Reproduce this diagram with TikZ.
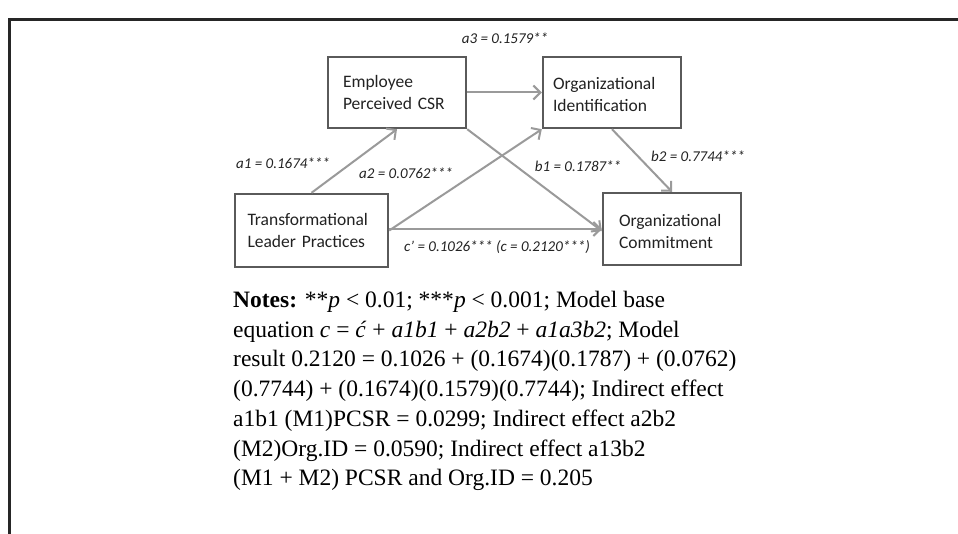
\documentclass[tikz,border=0pt]{standalone}
\usepackage{fontspec}
\setmainfont{Liberation Serif}
\newfontfamily\boxfont{Carlito}
\usetikzlibrary{arrows.meta}
\definecolor{boxline}{HTML}{5A5A5A}
\definecolor{arrowgray}{HTML}{9A9A9A}
\definecolor{txt}{HTML}{222222}
\begin{document}
\begin{tikzpicture}[x=1pt,y=-1pt,
  varbox/.style={draw=boxline, line width=2.4pt, fill=white, align=left, text=txt,
    inner sep=0pt, font=\boxfont\fontsize{17.5}{22}\selectfont},
  path/.style={draw=arrowgray, line width=2pt, -{Straight Barb[length=7pt,width=14pt,line width=2pt]}},
  coef/.style={font=\boxfont\itshape\fontsize{15}{17}\selectfont, text=txt, inner sep=0pt}]
\useasboundingbox (0,0) rectangle (958,534);
\fill[white] (0,0) rectangle (958,534);
% frame
\draw[line width=2.6pt, black!85] (9.3,540) -- (9.3,19.3) -- (965,19.3);
% boxes
\node[varbox, minimum width=138pt, minimum height=71pt, text width=108pt] (csr) at (397,92.5)
  {Employee\\Perceived CSR};
\node[varbox, minimum width=138pt, minimum height=71pt, text width=118pt] (oid) at (612,92.5)
  {\rule{0pt}{16pt}Organizational\\Identification};
\node[varbox, minimum width=153pt, minimum height=73pt, text width=128pt] (tlp) at (311.5,230.5)
  {Transformational\\Leader Practices};
\node[varbox, minimum width=138pt, minimum height=72pt, text width=106pt] (oc) at (672,229)
  {\rule{0pt}{17pt}Organizational\\Commitment};
% connectors
\draw[path] (csr.east) -- (oid.west);
\draw[path] (tlp.north) -- (csr.south);
\draw[path] (tlp.east) -- (oid.south west);
\draw[path] (tlp.east |- oc.west) -- (oc.west);
\draw[path] (csr.south east) -- ([yshift=-2pt]oc.west);
\draw[path] (oid.south) -- (oc.north);
% coefficients
\node[coef] (la3) at (505,38) {a3 = 0.1579**};
\node[coef] (la1) at (283,163) {a1 = 0.1674***};
\node[coef] (la2) at (406,173) {a2 = 0.0762***};
\node[coef] (lb1) at (578,166) {b1 = 0.1787**};
\node[coef] (lb2) at (698,156) {b2 = 0.7744***};
\node[coef] (lc) at (497,247) {c’ = 0.1026*** (c = 0.2120***)};
% notes
\node[anchor=north west, align=left, inner sep=0pt, text=black,
  font=\fontsize{23.5}{29.7}\selectfont] (notes) at (233,291)
  {\textbf{Notes:} **\textit{p} < 0.01; ***\textit{p} < 0.001; Model base\\
   equation \textit{c} = \textit{ć} + \textit{a1b1} + \textit{a2b2} + \textit{a1a3b2}; Model\\
   result 0.2120 = 0.1026 + (0.1674)(0.1787) + (0.0762)\\
   (0.7744) + (0.1674)(0.1579)(0.7744); Indirect effect\\
   a1b1 (M1)PCSR = 0.0299; Indirect effect a2b2\\
   (M2)Org.ID = 0.0590; Indirect effect a13b2\\
   (M1 + M2) PCSR and Org.ID = 0.205};
\end{tikzpicture}
\end{document}
